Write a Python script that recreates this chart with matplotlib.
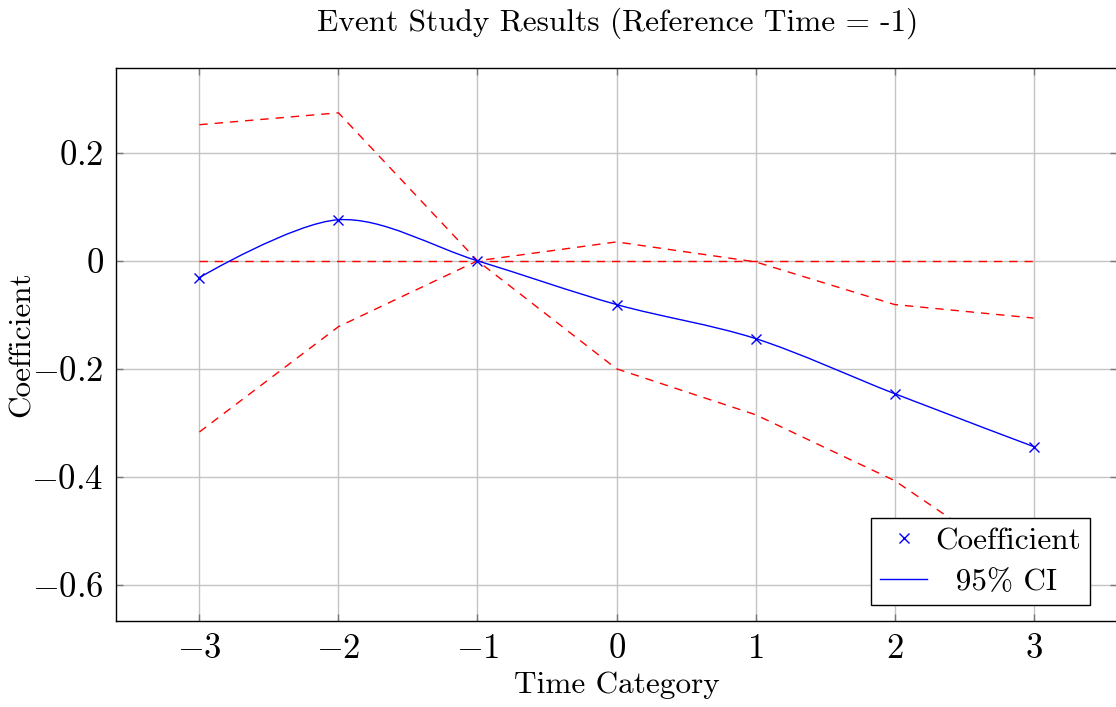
import matplotlib
matplotlib.use("Agg")
import matplotlib.pyplot as plt
from matplotlib.path import Path
from matplotlib.patches import PathPatch
from matplotlib.lines import Line2D
import numpy as np

plt.rcParams['font.family'] = 'cmr10'
plt.rcParams['mathtext.fontset'] = 'cm'
plt.rcParams['axes.unicode_minus'] = False

time_cat = [-3, -2, -1, 0, 1, 2, 3]
coef = [-0.031, 0.076, 0.0, -0.081, -0.144, -0.246, -0.344]
ci_upper = [0.252, 0.274, 0.0, 0.035, -0.002, -0.081, -0.106]
ci_lower = [-0.317, -0.122, 0.0, -0.200, -0.285, -0.407, -0.582]
zero_line = [0, 0, 0, 0, 0, 0, 0]
xticks = [-3, -2, -1, 0, 1, 2, 3]
yticks = [-0.6, -0.4, -0.2, 0.0, 0.2]
xtick_labels = ['$-3$', '$-2$', '$-1$', '$0$', '$1$', '$2$', '$3$']
ytick_labels = ['$-0.6$', '$-0.4$', '$-0.2$', '$0$', '$0.2$']

fig = plt.figure(figsize=(11.16, 7.07), dpi=100)
ax = fig.add_axes([116/1116, 1-621/707, (1117-116)/1116, (621-68)/707])

ax.set_xlim(-3.6, 3.6)
ax.set_ylim(-0.667, 0.357)
ax.grid(True, color='#c4c4c4', lw=1.0)
ax.set_axisbelow(True)

dash = (0, (6, 5))
ax.plot(time_cat, ci_upper, color='red', lw=1.0, ls=dash, zorder=2)
ax.plot(time_cat, ci_lower, color='red', lw=1.0, ls=dash, zorder=2)
ax.plot(time_cat, zero_line, color='red', lw=1.0, ls=dash, zorder=2)

# smooth curve through the coefficient points
pts = np.column_stack([time_cat, coef]).astype(float)
t = 0.16
verts = [pts[0]]
codes = [Path.MOVETO]
n = len(pts)
for i in range(n - 1):
    p0 = pts[i]
    p1 = pts[i + 1]
    if i == 0:
        c1 = p0
    else:
        c1 = p0 + t * (pts[i + 1] - pts[i - 1])
    if i + 1 == n - 1:
        c2 = p1
    else:
        c2 = p1 - t * (pts[i + 2] - pts[i])
    verts += [c1, c2, p1]
    codes += [Path.CURVE4] * 3
patch = PathPatch(Path(verts, codes), facecolor='none', edgecolor='blue', lw=1.0, zorder=3)
ax.add_patch(patch)
ax.plot(time_cat, coef, ls='none', marker='x', color='blue', ms=7, mew=1.0, zorder=4)

ax.set_xticks(xticks)
ax.set_xticklabels(xtick_labels)
ax.set_yticks(yticks)
ax.set_yticklabels(ytick_labels)
ax.tick_params(axis='both', direction='in', length=5, width=1, color='#777777',
               labelsize=25, top=True, right=True, pad=9)
for s in ax.spines.values():
    s.set_linewidth(1.0)
    s.set_color('black')

ax.set_xlabel('Time Category', fontsize=22.5, labelpad=4)
ax.set_ylabel('Coefficient', fontsize=22.5)
ax.yaxis.set_label_coords(-(116 - 36) / 1001, 0.5)
fig.text(0.553, 0.967, 'Event Study Results (Reference Time = -1)', fontsize=22.5,
         ha='center', va='center')

handles = [Line2D([], [], ls='none', marker='x', color='blue', ms=7, mew=1.0),
           Line2D([], [], color='blue', lw=1.0)]
leg = ax.legend(handles, ['Coefficient', '  95% CI'], loc='lower right',
                bbox_to_anchor=(1090/1116, 1-605/707), bbox_transform=fig.transFigure,
                fontsize=22.5, frameon=True, fancybox=False, framealpha=1,
                edgecolor='black', borderpad=0.3, handlelength=1.5, labelspacing=0.4,
                handletextpad=0.25, borderaxespad=0)
leg.get_frame().set_linewidth(1.0)

fig.savefig('out.png', dpi=100)
